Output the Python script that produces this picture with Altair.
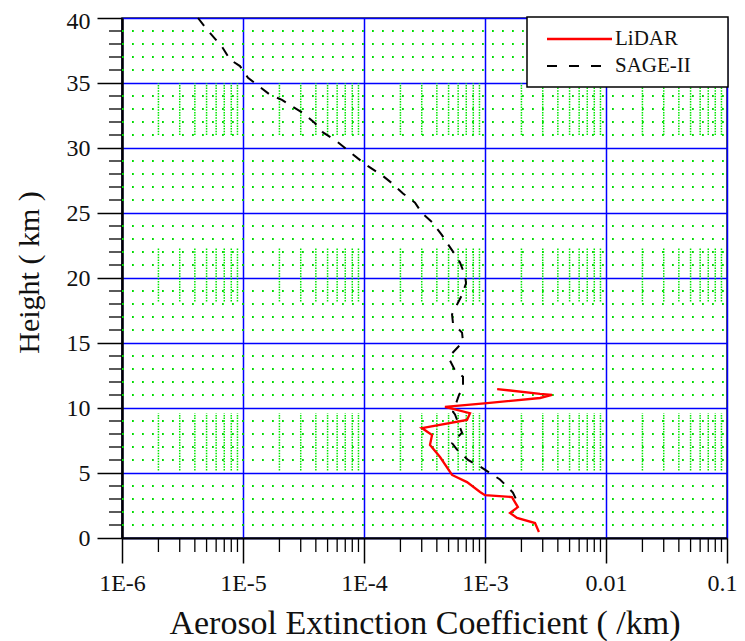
import altair as alt
import pandas as pd

# ---------------- data ----------------
sage_height = [40, 39.3, 38.4, 37.8, 36.8, 36.3, 35.4, 34.8, 34.1, 33.7,
               33.2, 32.7, 31.9, 31.2, 30.5, 30.0, 29.2, 28.6, 27.9, 27.3,
               26.5, 25.8, 25.0, 24.3, 23.3, 22.7, 21.8, 21.2, 20.2, 19.6,
               18.7, 18.1, 17.2, 16.5, 15.8, 15.1, 14.2, 13.8, 12.9, 12.4,
               11.6, 11.0, 9.7, 9.5, 8.5, 8.1, 7.3, 6.8, 6.0, 5.5,
               5.0, 4.5, 3.5, 3.0]
sage_ext = [4.25e-6, 4.85e-6, 5.88e-6, 6.70e-6, 7.82e-6, 9.44e-6, 1.10e-5, 1.33e-5, 1.67e-5, 2.10e-5,
            2.54e-5, 3.13e-5, 3.94e-5, 4.58e-5, 5.98e-5, 6.97e-5, 8.9e-5, 1.08e-4, 1.41e-4, 1.70e-4,
            2.10e-4, 2.64e-4, 3.01e-4, 3.65e-4, 4.41e-4, 4.85e-4, 5.65e-4, 6.21e-4, 6.84e-4, 6.97e-4,
            6.46e-4, 5.98e-4, 5.34e-4, 5.44e-4, 6.46e-4, 6.58e-4, 5.34e-4, 5.04e-4, 5.65e-4, 6.58e-4,
            6.58e-4, 6.10e-4, 5.44e-4, 5.65e-4, 6.21e-4, 6.46e-4, 5.34e-4, 5.87e-4, 7.24e-4, 9.1e-4,
            1.10e-3, 1.33e-3, 1.70e-3, 1.80e-3]

lidar_height = [11.46, 11.08, 11.0, 10.77, 10.38, 10.08, 9.6, 9.08, 8.46, 7.92,
                7.15, 6.23, 4.85, 4.3, 3.54, 3.3, 3.15, 2.38, 1.92, 1.54,
                1.15, 0.46]
lidar_ext = [1.26e-3, 2.85e-3, 3.58e-3, 2.85e-3, 1.04e-3, 4.67e-4, 7.52e-4, 7.10e-4, 3.01e-4, 3.65e-4,
             3.51e-4, 4.25e-4, 5.34e-4, 7.10e-4, 9.1e-4, 1.0e-3, 1.67e-3, 1.87e-3, 1.61e-3, 1.84e-3,
             2.59e-3, 2.79e-3]

x_tick_values = [1e-6, 1e-5, 1e-4, 1e-3, 1e-2, 1e-1]
x_tick_labels = ["1E-6", "1E-5", "1E-4", "1E-3", "0.01", "0.1"]
y_tick_values = [0, 5, 10, 15, 20, 25, 30, 35, 40]
x_minor_mult = [2, 3, 4, 5, 6, 7, 8, 9]
y_minor_values = [v for v in range(1, 40) if v % 5 != 0]
# height bands in which the minor vertical dotted grid is visible
band_low = [31.0, 18.2, 5.2]
band_high = [35.0, 22.3, 9.6]

series_names = ["LiDAR", "SAGE-II"]
series_colors = ["#ff0000", "#000000"]

# ---------------- layout ----------------
W, H = 605, 520
FONT = "Liberation Serif"
X_DOM = [1e-6, 1e-1]
Y_DOM = [0, 40]

xs = alt.Scale(type="log", domain=X_DOM, nice=False)
ys = alt.Scale(domain=Y_DOM, nice=False, zero=False)

# label expression built from the tick lists
expr = "'" + x_tick_labels[-1] + "'"
for v, lab in reversed(list(zip(x_tick_values[:-1], x_tick_labels[:-1]))):
    expr = f"datum.value < {v * 3} ? '{lab}' : ({expr})"

x_minor = [m * d for d in x_tick_values[:-1] for m in x_minor_mult]

df_lidar = pd.DataFrame({"ext": lidar_ext, "height": lidar_height,
                         "idx": list(range(len(lidar_ext)))})
df_sage = pd.DataFrame({"ext": sage_ext, "height": sage_height,
                        "idx": list(range(len(sage_ext)))})
df_ymin = pd.DataFrame({"height": y_minor_values})
df_xmin = pd.DataFrame({"ext": x_minor})
df_band = pd.DataFrame([{"ext": x, "height": lo, "height2": hi}
                        for x in x_minor for lo, hi in zip(band_low, band_high)])

x_axis = alt.Axis(values=x_tick_values, labelExpr=expr, tickSize=25, tickWidth=1.5,
                  tickColor="black", domainColor="black", domainWidth=2,
                  grid=True, gridColor="#0000ff", gridWidth=1.5, gridOpacity=1,
                  labelFont=FONT, labelFontSize=24, labelColor="#111111",
                  labelPadding=8, labelFlush=False,
                  labelOffset={"condition": {"test": f"datum.value > {x_tick_values[-2] * 5}",
                                             "value": -5}, "value": 0},
                  title="Aerosol Extinction Coefficient ( /km)",
                  titleFont=FONT, titleFontSize=34, titleFontWeight="normal",
                  titleColor="#111111", titlePadding=11)
y_axis = alt.Axis(values=y_tick_values, tickSize=25, tickWidth=1.5,
                  tickColor="black", domainColor="black", domainWidth=2.5,
                  grid=True, gridColor="#0000ff", gridWidth=1.5, gridOpacity=1,
                  labelFont=FONT, labelFontSize=24, labelColor="#111111",
                  labelPadding=7, labelFlush=False,
                  labelOffset={"condition": {"test": f"datum.value >= {Y_DOM[1]}",
                                             "value": 3}, "value": 0},
                  title="Height ( km )",
                  titleFont=FONT, titleFontSize=30, titleFontWeight="normal",
                  titleColor="#111111", titlePadding=22, titleY=254)

X = lambda: alt.X("ext:Q", scale=xs, axis=x_axis)
Y = lambda: alt.Y("height:Q", scale=ys, axis=y_axis)

# horizontal minor dotted grid
hgrid = alt.Chart(df_ymin).mark_rule(color="#00dd00", strokeWidth=1.8,
                                     strokeDash=[1.8, 8.2]).encode(
    y=Y(), x=alt.value(0), x2=alt.value(W))

# vertical minor dotted grid (visible bands)
vgrid = alt.Chart(df_band).mark_rule(color="#00e600", strokeWidth=1.5,
                                     strokeDash=[1.5, 1.2], opacity=1).encode(
    x=X(), y=Y(), y2="height2:Q")

# minor ticks
yticks = alt.Chart(df_ymin).mark_rule(color="black", strokeWidth=1.3).encode(
    y=Y(), x=alt.value(-13), x2=alt.value(0))
xticks = alt.Chart(df_xmin).mark_rule(color="black", strokeWidth=1.3).encode(
    x=X(), y=alt.value(H), y2=alt.value(H + 14))

sage = alt.Chart(df_sage).mark_line(color=series_colors[1], strokeWidth=2,
                                    strokeDash=[10, 9]).encode(
    x=X(), y=Y(), order="idx:Q")
lidar = alt.Chart(df_lidar).mark_line(color=series_colors[0], strokeWidth=2.3).encode(
    x=X(), y=Y(), order="idx:Q")

# legend (drawn as a boxed key in the top-right corner)
one = pd.DataFrame({"k": [0]})
leg_box = alt.Chart(one).mark_rect(fill="white", stroke="black", strokeWidth=1.5).encode(
    x=alt.value(405), x2=alt.value(606), y=alt.value(-1), y2=alt.value(69))
leg_layers = [leg_box]
for i, (name, col) in enumerate(zip(series_names, series_colors)):
    yy = 21 + 27 * i
    dash = [1, 0] if i == 0 else [10, 12]
    leg_layers.append(alt.Chart(one).mark_rule(color=col, strokeWidth=2.3 if i == 0 else 2,
                                               strokeDash=dash).encode(
        x=alt.value(425), x2=alt.value(490), y=alt.value(yy)))
    leg_layers.append(alt.Chart(one).mark_text(text=name, font=FONT, fontSize=21,
                                               align="left", baseline="middle",
                                               color="#111111").encode(
        x=alt.value(493), y=alt.value(yy)))

chart = alt.layer(hgrid, vgrid, yticks, xticks, sage, lidar, *leg_layers).properties(
    width=W, height=H,
    autosize=alt.AutoSizeParams(type="none"),
    padding={"left": 114, "top": 10, "right": 10, "bottom": 103},
).configure_view(stroke="#222222", strokeWidth=1.5)

chart.save("out.html", embed_options={"renderer": "svg", "actions": False})
